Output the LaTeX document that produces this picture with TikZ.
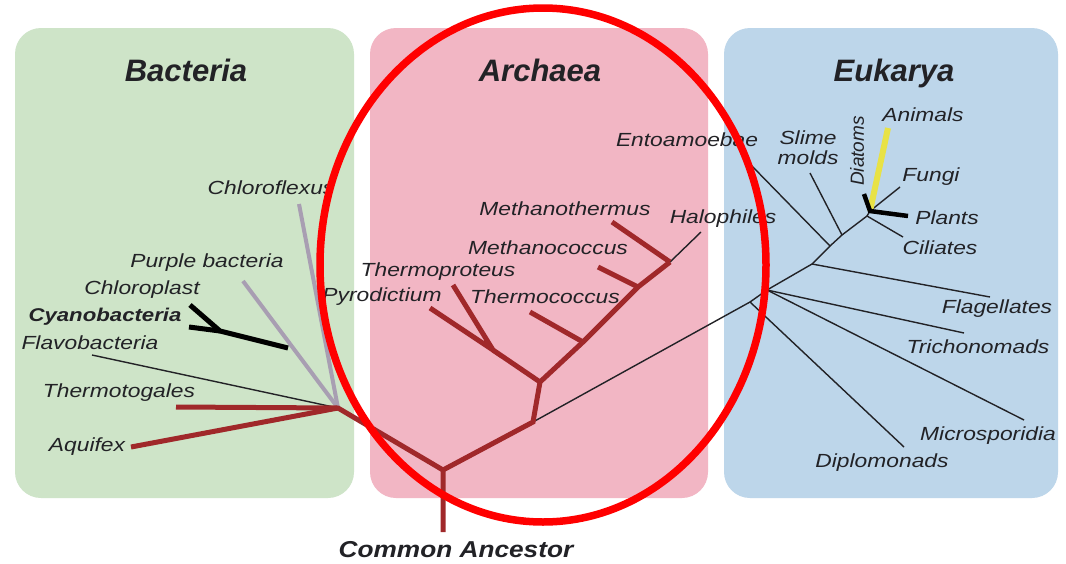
\documentclass[tikz,border=0pt]{standalone}
\usepackage{fontspec}
\setmainfont{Liberation Sans}
\usepackage{tikz}
\usetikzlibrary{positioning}

\definecolor{bactgreen}{RGB}{206,228,200}
\definecolor{archpink}{RGB}{242,182,196}
\definecolor{eukblue}{RGB}{189,214,234}
\definecolor{treered}{RGB}{160,40,42}
\definecolor{treegrey}{RGB}{168,158,178}
\definecolor{inkdark}{RGB}{34,34,38}
\definecolor{animyellow}{RGB}{232,226,70}

\begin{document}
\begin{tikzpicture}[x=1pt, y=-1pt,
    panel/.style={rounded corners=26pt},
    kingdom/.style={font=\fontsize{31}{31}\selectfont\bfseries\itshape, text=inkdark, inner sep=0pt},
    taxon/.style={font=\fontsize{19}{19}\selectfont\itshape, text=inkdark, inner sep=0pt, xscale=1.2},
    redline/.style={draw=treered, line width=5pt},
    greyline/.style={draw=treegrey, line width=4pt},
    thinline/.style={draw=inkdark, line width=1.4pt},
    thickline/.style={draw=black, line width=5pt}]
    \fill[white] (0,0) rectangle (1066,563);
    \useasboundingbox (0,0) rectangle (1066,563);
    \fill[panel, bactgreen] (15,28) rectangle (354,498);
    \fill[panel, archpink] (370,28) rectangle (708,498);
    \fill[panel, eukblue] (724,28) rectangle (1058,498);
    \node[kingdom, anchor=base] (bacteria) at (186,81) {Bacteria};
    \node[kingdom, anchor=base] (archaea) at (540,81) {Archaea};
    \node[kingdom, anchor=base] (eukarya) at (894,81) {Eukarya};

    % junctions and tips
    \coordinate (root) at (443,532);
    \coordinate (j0) at (443,470);
    \coordinate (b0) at (338,408);
    \coordinate (cf) at (299,204);
    \coordinate (pb) at (243,281);
    \coordinate (ck) at (288,348);
    \coordinate (fork) at (220,331);
    \coordinate (cp) at (190,305);
    \coordinate (cy) at (189,327);
    \coordinate (fl) at (92,355);
    \coordinate (tg) at (176,407);
    \coordinate (aq) at (131,447);
    \coordinate (a0) at (533,422);
    \coordinate (a1) at (540,382);
    \coordinate (a2) at (493,350);
    \coordinate (py) at (430,308);
    \coordinate (tp) at (453,285);
    \coordinate (a3) at (583,342);
    \coordinate (tc) at (530,312);
    \coordinate (a4) at (638,287);
    \coordinate (mc) at (598,267);
    \coordinate (a5) at (670,262);
    \coordinate (mt) at (612,222);
    \coordinate (ha) at (701,232);
    \coordinate (ea) at (750,302);
    \coordinate (eb) at (767,290);
    \coordinate (ec) at (812,264);
    \coordinate (ed) at (830,246);
    \coordinate (ee) at (842,235);
    \coordinate (ef) at (867,216);
    \coordinate (cr) at (870,211);
    \coordinate (dm) at (904,447);
    \coordinate (ms) at (1024,420);
    \coordinate (tn) at (964,333);
    \coordinate (fg) at (990,297);
    \coordinate (en) at (750,164);
    \coordinate (sm) at (810,173);
    \coordinate (ci) at (903,237);
    \coordinate (di) at (864,194);
    \coordinate (pl) at (908,216);
    \coordinate (an) at (888,128);
    \coordinate (fu) at (900,187);

    \draw[thinline] (fl) -- (b0);
    \draw[greyline] (cf) -- (b0);
    \draw[greyline] (pb) -- (b0);
    \draw[thickline] (ck) -- (fork) -- (cp);
    \draw[thickline] (fork) -- (cy);
    \draw[thinline] (a5) -- (ha);
    \draw[thinline] (a0) -- (ea) -- (eb) -- (ec) -- (ed) -- (ee) -- (ef) -- (cr);
    \draw[thinline] (ea) -- (dm);
    \draw[thinline] (eb) -- (ms);
    \draw[thinline] (eb) -- (tn);
    \draw[thinline] (ec) -- (fg);
    \draw[thinline] (ed) -- (en);
    \draw[thinline] (ee) -- (sm);
    \draw[thinline] (ef) -- (ci);
    \draw[thinline] (cr) -- (fu);
    \draw[draw=animyellow, line width=6pt] (cr) -- (an);
    \draw[thickline, line width=4.5pt] (di) -- (cr) -- (pl);
    \draw[redline] (aq) -- (b0);
    \draw[redline] (tg) -- (b0) -- (j0);
    \draw[redline] (root) -- (j0) -- (a0) -- (a1) -- (a3) -- (a4) -- (a5);
    \draw[redline] (py) -- (a2) -- (tp);
    \draw[redline] (a1) -- (a2);
    \draw[redline] (a3) -- (tc);
    \draw[redline] (a4) -- (mc);
    \draw[redline] (a5) -- (mt);

    \node[taxon] (chloroflexus) at (271,188) {Chloroflexus};
    \node[taxon] (purple) at (207,263) {Purple bacteria};
    \node[taxon] (chloroplast) at (142,290) {Chloroplast};
    \node[taxon, font=\fontsize{18.5}{19}\selectfont\bfseries\itshape] (cyano) at (105,317) {Cyanobacteria};
    \node[taxon] (flavo) at (90,343) {Flavobacteria};
    \node[taxon] (thermotogales) at (119,393) {Thermotogales};
    \node[taxon] (aquifex) at (87,447) {Aquifex};
    \node[taxon] (methanothermus) at (565,209) {Methanothermus};
    \node[taxon] (methanococcus) at (548,248) {Methanococcus};
    \node[taxon] (thermoproteus) at (438,272) {Thermoproteus};
    \node[taxon] (pyrodictium) at (382,297) {Pyrodictium};
    \node[taxon] (thermococcus) at (545,297) {Thermococcus};
    \node[taxon] (halophiles) at (723,219) {Halophiles};
    \node[taxon] (entoamoebae) at (687,140) {Entoamoebae};
    \node[taxon, align=center, font=\fontsize{19}{20}\selectfont\itshape] (slime) at (808,148) {Slime\\molds};
    \node[taxon, xscale=0.833, rotate=90] (diatoms) at (857,151) {Diatoms};
    \node[taxon] (animals) at (923,115) {Animals};
    \node[taxon] (fungi) at (931,177) {Fungi};
    \node[taxon] (plants) at (947,218) {Plants};
    \node[taxon] (ciliates) at (940,248) {Ciliates};
    \node[taxon] (flagellates) at (997,309) {Flagellates};
    \node[taxon] (trichonomads) at (978,347) {Trichonomads};
    \node[taxon] (microsporidia) at (988,436) {Microsporidia};
    \node[taxon] (diplomonads) at (882,463) {Diplomonads};
    \node[kingdom, font=\fontsize{23}{23}\selectfont\bfseries\itshape, xscale=1.14] (ancestor) at (456,550) {Common Ancestor};

    \draw[red, line width=7.5pt] (543,265) ellipse [x radius=223, y radius=257];
\end{tikzpicture}
\end{document}
